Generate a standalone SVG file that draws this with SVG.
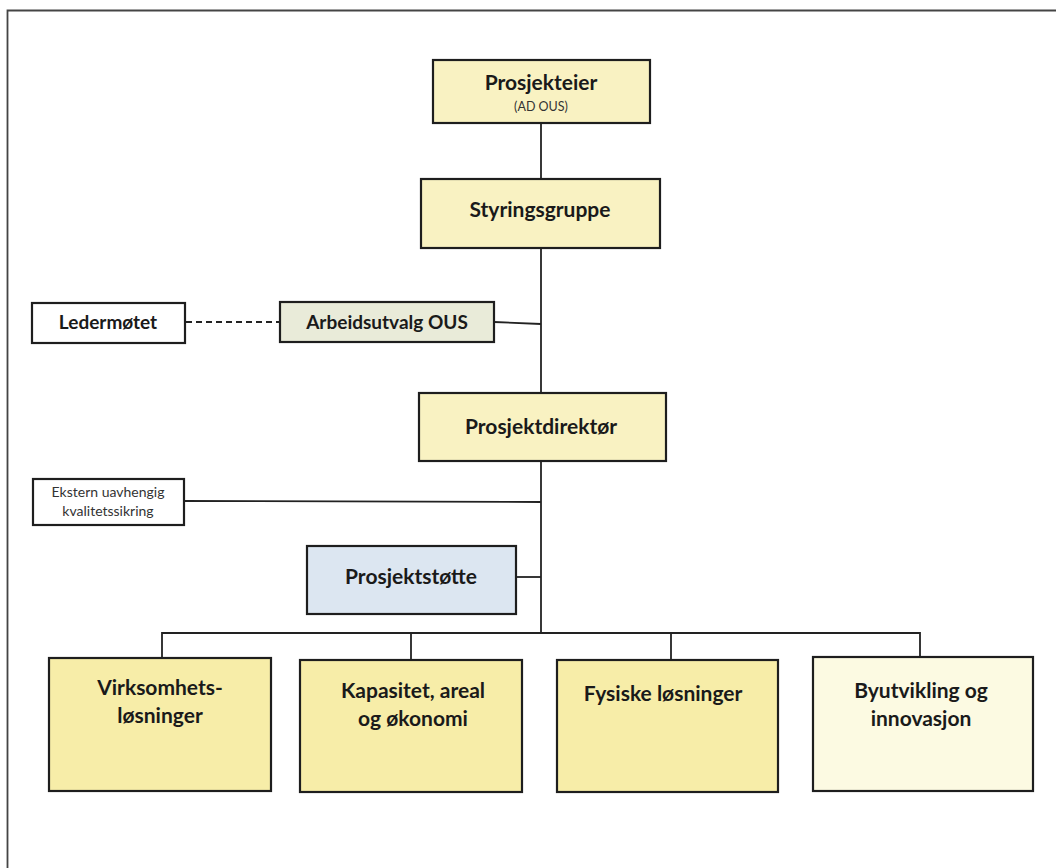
<svg xmlns="http://www.w3.org/2000/svg" width="1056" height="868" viewBox="0 0 1056 868">
  <style>
    .box { stroke: #1e1e1e; stroke-width: 2.2; }
    .yellow { fill: #f9f2c2; }
    .gold { fill: #f7eda8; }
    .pale { fill: #fcfae2; }
    .white { fill: #ffffff; }
    .grey { fill: #e9ebd9; }
    .blue { fill: #dce6f1; }
    .line { stroke: #222; stroke-width: 1.8; fill: none; }
    .dash { stroke: #222; stroke-width: 1.8; fill: none; stroke-dasharray: 6 4; }
    text { font-family: "Lato", "Open Sans", "Liberation Sans", sans-serif; fill: #1a1a1a; text-anchor: middle; }
    .b { font-weight: 700; font-size: 21px; }
    .m { font-weight: 700; font-size: 19px; }
    .s { font-size: 12.5px; fill: #333; }
    .n { font-size: 14px; fill: #333; }
  </style>

  <rect x="0" y="0" width="1056" height="868" fill="#ffffff"/>
  <!-- page frame (top and left edges) -->
  <path d="M7.5 868 V10.5 H1056" stroke="#444" stroke-width="1.8" fill="none"/>

  <g id="connectors">
    <line class="line" x1="541" y1="123" x2="541" y2="179"/>
    <line class="line" x1="541" y1="248" x2="541" y2="393"/>
    <line class="line" x1="494" y1="322" x2="541" y2="324"/>
    <line class="dash" x1="186" y1="322" x2="280" y2="322"/>
    <line class="line" x1="541" y1="461" x2="541" y2="632"/>
    <line class="line" x1="185" y1="501" x2="541" y2="502"/>
    <line class="line" x1="516" y1="577" x2="541" y2="577"/>
    <path class="line" d="M162 658 V633 H920 V657"/>
    <line class="line" x1="411" y1="633" x2="411" y2="660"/>
    <line class="line" x1="671" y1="633" x2="671" y2="660"/>
  </g>

  <g id="prosjekteier">
    <rect class="box yellow" x="433" y="60" width="217" height="63"/>
    <text class="b" x="541" y="90">Prosjekteier</text>
    <text class="s" x="541" y="111">(AD OUS)</text>
  </g>

  <g id="styringsgruppe">
    <rect class="box yellow" x="421" y="179" width="239" height="69"/>
    <text class="b" x="540" y="217">Styringsgruppe</text>
  </g>

  <g id="ledermotet">
    <rect class="box white" x="32" y="303" width="153" height="40"/>
    <text class="m" x="108" y="329">Ledermøtet</text>
  </g>

  <g id="arbeidsutvalg">
    <rect class="box grey" x="280" y="302" width="214" height="40"/>
    <text class="m" x="387" y="329">Arbeidsutvalg OUS</text>
  </g>

  <g id="prosjektdirektor">
    <rect class="box yellow" x="419" y="393" width="247" height="68"/>
    <text class="b" x="541" y="434">Prosjektdirektør</text>
  </g>

  <g id="ekstern">
    <rect class="box white" x="33" y="479" width="151" height="46"/>
    <text class="n" x="108" y="497">Ekstern uavhengig</text>
    <text class="n" x="108" y="516">kvalitetssikring</text>
  </g>

  <g id="prosjektstotte">
    <rect class="box blue" x="307" y="546" width="209" height="68"/>
    <text class="b" x="411" y="584">Prosjektstøtte</text>
  </g>

  <g id="virksomhetslosninger">
    <rect class="box gold" x="49" y="658" width="222" height="133"/>
    <text class="b" x="160" y="695">Virksomhets-</text>
    <text class="b" x="160" y="723">løsninger</text>
  </g>

  <g id="kapasitet">
    <rect class="box gold" x="300" y="660" width="222" height="132"/>
    <text class="b" x="413" y="698">Kapasitet, areal</text>
    <text class="b" x="413" y="726">og økonomi</text>
  </g>

  <g id="fysiske">
    <rect class="box gold" x="557" y="660" width="221" height="132"/>
    <text class="b" x="663" y="701">Fysiske løsninger</text>
  </g>

  <g id="byutvikling">
    <rect class="box pale" x="813" y="657" width="220" height="134"/>
    <text class="b" x="921" y="698">Byutvikling og</text>
    <text class="b" x="921" y="726">innovasjon</text>
  </g>
</svg>
